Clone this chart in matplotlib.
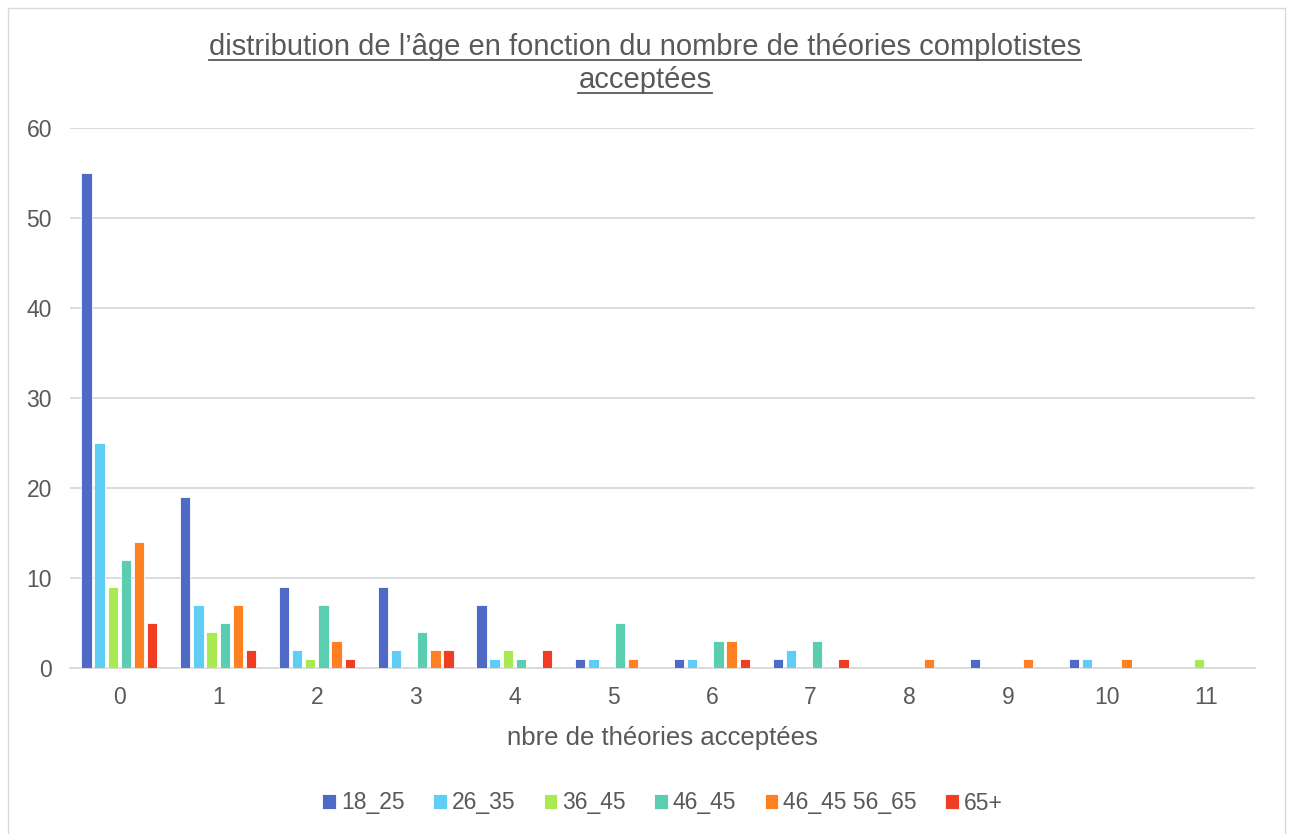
import matplotlib
matplotlib.use("Agg")
import matplotlib.pyplot as plt
import numpy as np
from matplotlib.patches import Rectangle
from matplotlib.lines import Line2D

plt.rcParams['font.family'] = ['Liberation Sans', 'DejaVu Sans']

# nombre de theories acceptees
categories = ['0', '1', '2', '3', '4', '5', '6', '7', '8', '9', '10', '11']
series_names = ['18_25', '26_35', '36_45', '46_45', '46_45 56_65', '65+']
s18_25 = [55, 19, 9, 9, 7, 1, 1, 1, 0, 1, 1, 0]
s26_35 = [25, 7, 2, 2, 1, 1, 1, 2, 0, 0, 1, 0]
s36_45 = [9, 4, 1, 0, 2, 0, 0, 0, 0, 0, 0, 1]
s46_45 = [12, 5, 7, 4, 1, 5, 3, 3, 0, 0, 0, 0]
s56_65 = [14, 7, 3, 2, 0, 1, 3, 0, 1, 1, 1, 0]
s65 = [5, 2, 1, 2, 2, 0, 1, 1, 0, 0, 0, 0]
values = [s18_25, s26_35, s36_45, s46_45, s56_65, s65]
colors = ['#4F69C6', '#5FCDF4', '#A9EA52', '#5BCDB0', '#FF8021', '#EF3E24']

txt = '#595959'
fig = plt.figure(figsize=(12.9, 8.34), dpi=100)
ax = fig.add_axes([70 / 1290, 1 - 668 / 834, 1185 / 1290, 540 / 834])

x = np.arange(len(categories))
step = 0.133
width = 0.105
for i, (vals, c, name) in enumerate(zip(values, colors, series_names)):
    ax.bar(x + (i - 2.5) * step, vals, width, color=c, label=name,
           edgecolor='white', linewidth=0.6, zorder=3)

ax.set_xlim(-0.5, len(categories) - 0.5)
ax.set_ylim(0, 60)
ax.set_yticks(range(0, 61, 10))
ax.set_xticks(x)
ax.set_xticklabels(categories)
ax.tick_params(length=0, labelsize=16.5, colors=txt)
ax.tick_params(axis='x', pad=13)
ax.tick_params(axis='y', pad=13)
ax.grid(axis='y', color='#D9D9D9', linewidth=1.3, zorder=0)
for s in ['left', 'right', 'top']:
    ax.spines[s].set_visible(False)
ax.spines['bottom'].set_color('#D9D9D9')
ax.spines['bottom'].set_linewidth(1.3)
ax.set_xlabel('nbre de théories acceptées', fontsize=18.5, color=txt, labelpad=12)

t1 = fig.text(0.5, 1 - 47 / 834, "distribution de l’âge en fonction du nombre de théories complotistes",
              ha='center', va='center', fontsize=21, color=txt)
t2 = fig.text(0.5, 1 - 80 / 834, "acceptées", ha='center', va='center', fontsize=21, color=txt)

ax.legend(loc='center', bbox_to_anchor=(0.5, (668 - 803) / 540), ncol=6, frameon=False,
          fontsize=16.5, labelcolor=txt, handlelength=0.6, handleheight=0.6,
          handletextpad=0.2, columnspacing=1.25)

# underline title
fig.canvas.draw()
r = fig.canvas.get_renderer()
for t in [t1, t2]:
    bb = t.get_window_extent(r).transformed(fig.transFigure.inverted())
    fig.add_artist(Line2D([bb.x0, bb.x1], [bb.y0 + 0.001, bb.y0 + 0.001],
                          transform=fig.transFigure, color=txt, linewidth=1.3))

fig.add_artist(Rectangle((8 / 1290, -0.01), 1277 / 1290, 1 - 8 / 834 + 0.01,
                         transform=fig.transFigure, fill=False, edgecolor='#D9D9D9', linewidth=1))

fig.savefig('out.png', dpi=100, facecolor='white')
